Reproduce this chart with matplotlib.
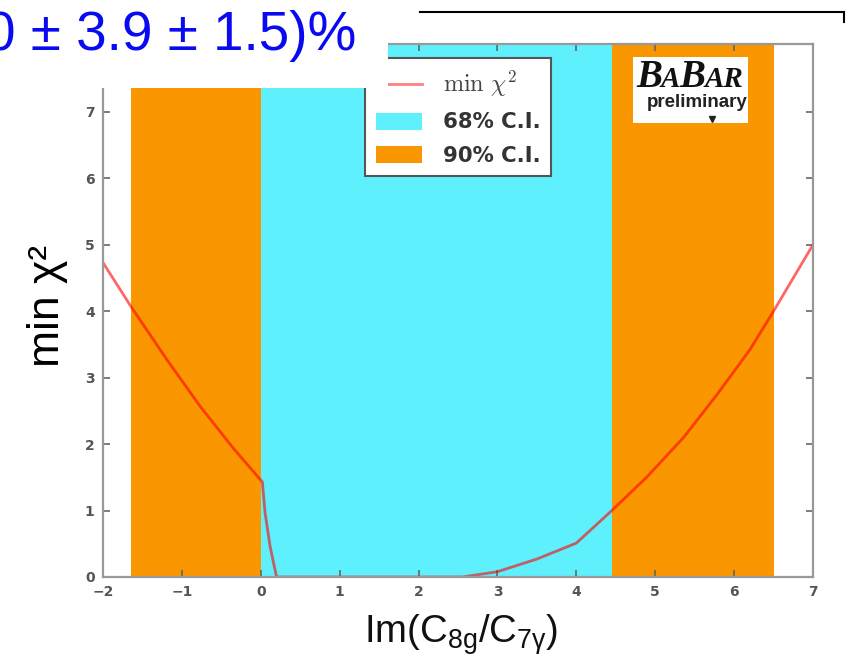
import matplotlib
matplotlib.use("Agg")
import matplotlib.pyplot as plt
from matplotlib import font_manager
from matplotlib.lines import Line2D
from matplotlib.patches import Patch, Rectangle
from matplotlib.font_manager import FontProperties

# ---------------- data ----------------
curve_x = [-2.0, -1.64, -1.19, -0.77, -0.35, 0.02, 0.054, 0.118, 0.20, 1.0, 2.0, 2.56,
           3.0, 3.5, 4.0, 4.45, 4.89, 5.36, 5.78, 6.2, 6.5, 7.0]
curve_y = [4.73, 4.06, 3.27, 2.57, 1.94, 1.43, 0.97, 0.46, 0.0, 0.0, 0.0, 0.0,
           0.08, 0.27, 0.51, 1.0, 1.50, 2.10, 2.74, 3.42, 4.0, 5.0]
ci68 = [(0.0, 4.45)]
ci90 = [(-1.65, 0.0), (4.45, 6.5)]
xticks = [-2, -1, 0, 1, 2, 3, 4, 5, 6, 7]
yticks = [0, 1, 2, 3, 4, 5, 6, 7]
legend_labels = [r'$\mathrm{min}\ \chi^2$', '68% C.I.', '90% C.I.']
title_text = '0 ± 3.9 ± 1.5)%'
xlabel_text = r'Im(C$_\mathrm{8g}$/C$_\mathrm{7\gamma}$)'
ylabel_text = 'min χ²'

CYAN = '#5ef1fd'
ORANGE = '#f99600'

names = {f.name for f in font_manager.fontManager.ttflist}
label_font = 'Liberation Sans Narrow' if 'Liberation Sans Narrow' in names else 'Liberation Sans'
plt.rcParams['mathtext.fontset'] = 'custom'
plt.rcParams['mathtext.rm'] = label_font
plt.rcParams['mathtext.it'] = label_font + ':italic'
plt.rcParams['mathtext.default'] = 'rm'

W, H = 846, 658
fig = plt.figure(figsize=(W / 100, H / 100), dpi=100)
ax = fig.add_axes([103 / W, (H - 577) / H, 710 / W, 533 / H])
ax.set_xlim(-2, 7)
ax.set_ylim(0, 8.02)

for lo, hi in ci90:
    ax.axvspan(lo, hi, color=ORANGE, lw=0, zorder=1)
for lo, hi in ci68:
    ax.axvspan(lo, hi, color=CYAN, lw=0, zorder=1)
ax.plot(curve_x, curve_y, color='red', alpha=0.6, lw=2, zorder=2)

ax.set_xticks(xticks)
ax.set_yticks(yticks)
ax.tick_params(direction='in', top=True, right=True, length=5, width=1.2,
               color='#666', labelsize=10, labelcolor='#555', pad=6)
for lab in ax.get_xticklabels() + ax.get_yticklabels():
    lab.set_fontweight('bold')
for s in ax.spines.values():
    s.set_color('#999')
    s.set_linewidth(1.6)

# legend
handles = [Line2D([], [], color='red', alpha=0.5, lw=2),
           Patch(facecolor=CYAN, edgecolor='none'),
           Patch(facecolor=ORANGE, edgecolor='none')]
leg = ax.legend(handles, legend_labels, loc='upper left',
                bbox_to_anchor=(365 / W, 1 - 58 / H), bbox_transform=fig.transFigure,
                borderaxespad=0, borderpad=0.5, labelspacing=0.62, handlelength=2.2,
                handleheight=0.85, handletextpad=0.95, fancybox=False, framealpha=1,
                edgecolor='#555', prop=FontProperties(family='DejaVu Sans', weight='bold', size=15.3))
leg.get_frame().set_linewidth(1.5)
for t in leg.get_texts():
    t.set_color('#333')
leg.get_texts()[0].set_math_fontfamily('cm')
leg.get_texts()[0].set_fontsize(17.5)
leg.get_texts()[0].set_color('#444')

# BaBar logo box
fig.add_artist(Rectangle((633 / W, 1 - 123 / H), 115 / W, 66 / H, transform=fig.transFigure,
                         facecolor='white', edgecolor='none', zorder=5))
fig.canvas.draw()
renderer = fig.canvas.get_renderer()
x = 636.0
for piece, size in [('B', 28), ('A', 21), ('B', 28), ('AR', 21)]:
    t = fig.text(x / W, 1 - 87 / H, piece, fontsize=size, family='Liberation Serif',
                 weight='bold', style='italic', ha='left', va='baseline', color='#111', zorder=6)
    x = t.get_window_extent(renderer).x1 - 1
fig.text(697 / W, 1 - 107 / H, 'preliminary', fontsize=13.5, family='Liberation Sans',
         weight='bold', ha='center', va='baseline', color='#222', zorder=6)
fig.add_artist(Line2D([712 / W], [1 - 119 / H], marker='v', markersize=5, color='#222',
                      transform=fig.transFigure, zorder=6))

# slide title area
fig.add_artist(Rectangle((0, 1 - 88 / H), 388 / W, 88 / H, transform=fig.transFigure,
                         facecolor='white', edgecolor='none', zorder=10))
fig.text(356 / W, 1 - 50 / H, title_text, fontsize=39.5, family='Liberation Sans',
         color='#0a0af0', ha='right', va='baseline', zorder=11)
fig.add_artist(Line2D([420 / W, 844 / W], [1 - 12 / H, 1 - 12 / H], color='black', lw=1.5,
                      transform=fig.transFigure, zorder=11))
fig.add_artist(Line2D([844 / W, 844 / W], [1 - 12 / H, 1 - 22 / H], color='black', lw=1.5,
                      transform=fig.transFigure, zorder=11))

# axis labels
fig.text(47 / W, 1 - 306 / H, ylabel_text, fontsize=32, family=label_font, rotation=90,
         ha='center', va='center', color='black')
fig.text(461 / W, 1 - 643 / H, xlabel_text, fontsize=27.5, family=label_font,
         ha='center', va='baseline', color='#111')

fig.savefig('out.png', dpi=100)
